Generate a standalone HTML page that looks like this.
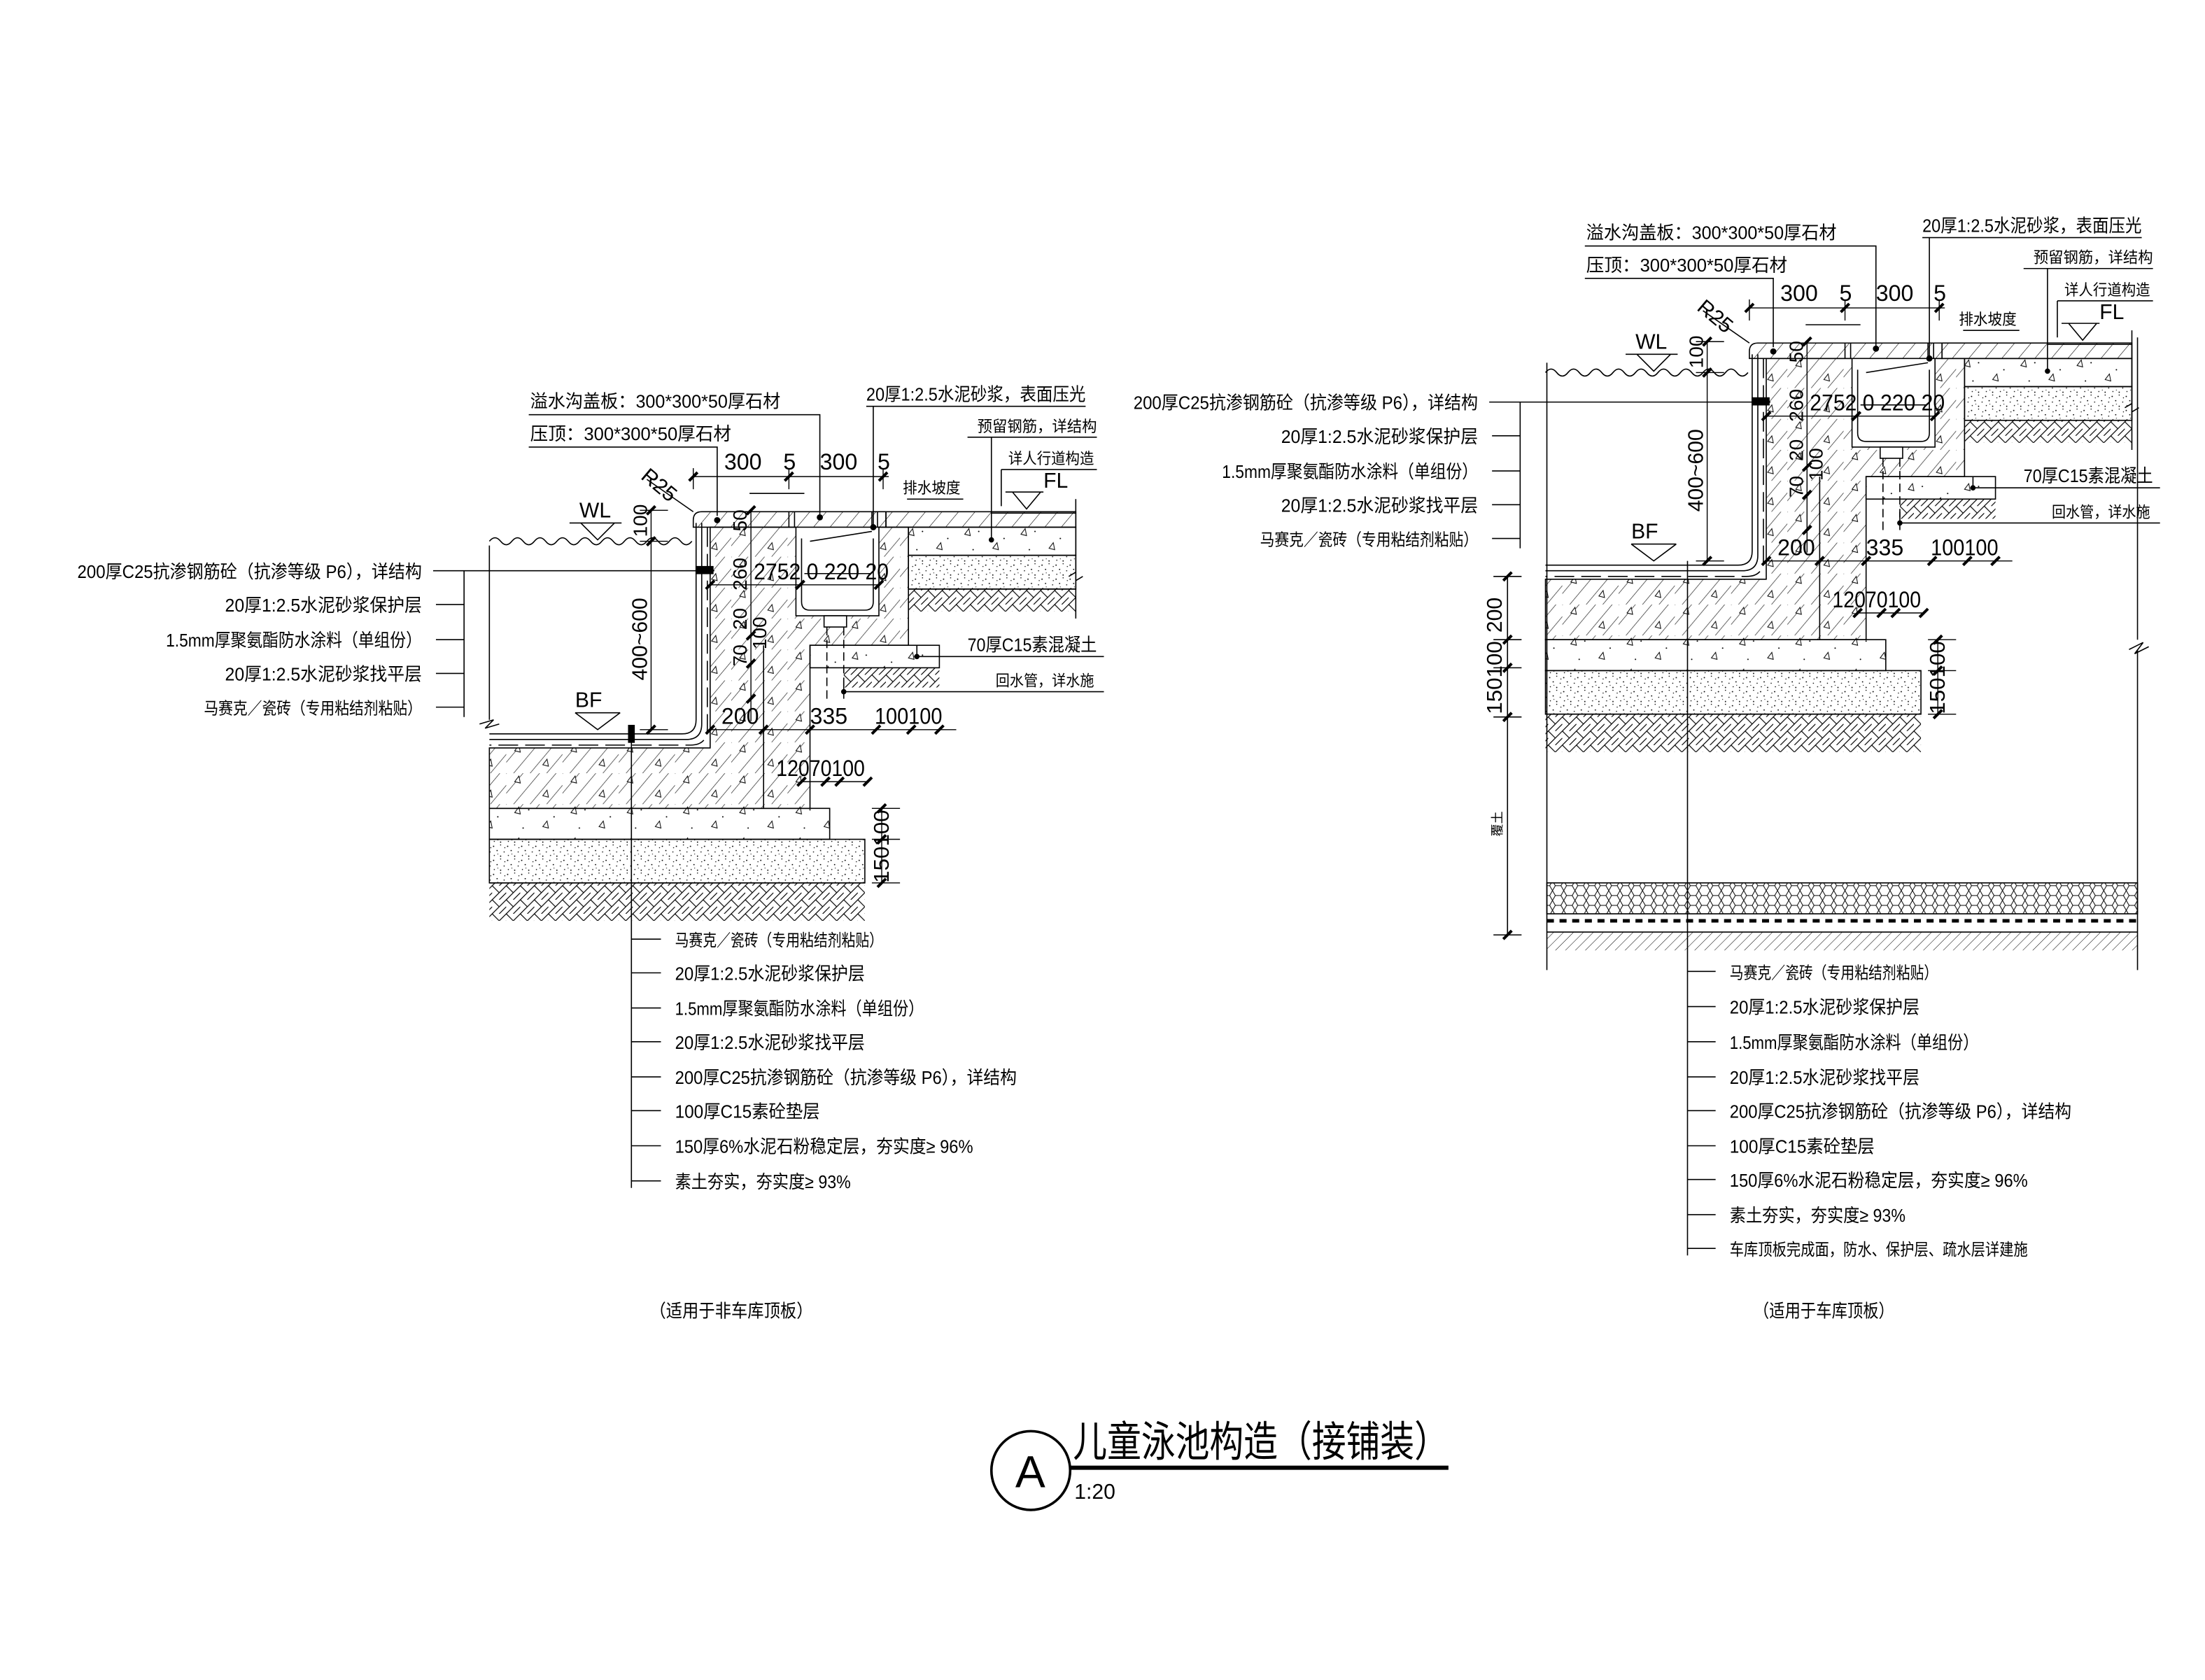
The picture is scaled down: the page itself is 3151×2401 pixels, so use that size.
<!DOCTYPE html>
<html><head><meta charset="utf-8"><style>
html,body{margin:0;padding:0;background:#fff}
svg{display:block}
text{font-family:"Liberation Sans","Noto Sans CJK SC",sans-serif;fill:#000}
</style></head><body>
<svg width="3151" height="2401" viewBox="0 0 1568 1195" preserveAspectRatio="none" xmlns="http://www.w3.org/2000/svg">
<defs>
<pattern id="h" width="9" height="9" patternUnits="userSpaceOnUse" patternTransform="rotate(40)"><line x1="0" y1="0" x2="0" y2="9" stroke="#000" stroke-width="0.6"/></pattern>
<pattern id="h2" width="5" height="5" patternUnits="userSpaceOnUse" patternTransform="rotate(45)"><line x1="0" y1="0" x2="0" y2="5" stroke="#000" stroke-width="0.5"/></pattern>
<pattern id="d" width="10" height="10" patternUnits="userSpaceOnUse"><circle cx="1" cy="2" r="0.45"/><circle cx="6" cy="1" r="0.4"/><circle cx="3.5" cy="5" r="0.45"/><circle cx="8.5" cy="6" r="0.4"/><circle cx="1.5" cy="8.5" r="0.4"/><circle cx="6" cy="9" r="0.45"/><circle cx="9" cy="3" r="0.35"/><circle cx="4" cy="7.5" r="0.3"/></pattern>
<pattern id="s" width="40" height="22" patternUnits="userSpaceOnUse"><path d="M6 6l3 -4l1 5z M26 16l3 -4l1 5z" fill="none" stroke="#000" stroke-width="0.5"/><circle cx="16" cy="4" r="0.5"/><circle cx="34" cy="9" r="0.5"/><circle cx="12" cy="17" r="0.5"/></pattern>
<pattern id="c" width="40" height="22" patternUnits="userSpaceOnUse"><rect width="40" height="22" fill="url(#h)"/><path d="M6 6l3 -4l1 5z M26 16l3 -4l1 5z" fill="#fff" stroke="#000" stroke-width="0.5"/></pattern>
<pattern id="soil" width="10" height="10" patternUnits="userSpaceOnUse"><path d="M0 10L10 0 M0 0L5 5 M5 10L10 5 M-2 2L2 -2 M8 12L12 8" fill="none" stroke="#000" stroke-width="0.6"/></pattern>
<pattern id="hex" width="8" height="7" patternUnits="userSpaceOnUse"><path d="M2 0L6 0L8 3.5L6 7L2 7L0 3.5Z" fill="none" stroke="#000" stroke-width="0.5"/></pattern>
<g id="core" stroke="#000" stroke-width="0.8" fill="none">
 <path d="M348 385 q4 -5 8 0 q4 5 8 0 q4 -5 8 0 q4 5 8 0 q4 -5 8 0 q4 5 8 0 q4 -5 8 0 q4 5 8 0 q4 -5 8 0 q4 5 8 0 q4 -5 8 0 q4 5 8 0 q4 -5 8 0 q4 5 8 0 q4 -5 8 0 q4 5 8 0 q4 -5 8 0 q4 5 8 0"/>
 <path d="M495 372 V512 Q495 522 485 522 H348"/>
 <path d="M499 372 V515 Q499 526 488 526 H348"/>
 <path d="M503 375 V518 Q503 530 491 530 H348" stroke-dasharray="14 5"/>
 <path d="M505 375 H566 V438 H625 V375 H646 V459 H576 V575 H348 V532 H505 Z" fill="url(#c)"/>
 <line x1="543" y1="459" x2="543" y2="575"/>
 <path d="M493 375 V370 Q493 364 499 364 H630 V375 Z" fill="url(#h)"/>
 <line x1="561" y1="364" x2="561" y2="375"/><line x1="565" y1="364" x2="565" y2="375"/><line x1="620" y1="364" x2="620" y2="375"/><line x1="624" y1="364" x2="624" y2="375"/>
 <path d="M570 383 V428 Q570 434 576 434 H615 Q621 434 621 428 V383" fill="#fff"/>
 <line x1="572" y1="408" x2="619" y2="408"/>
 <path d="M576 385 L620 378" />
 <rect x="586" y="438" width="16" height="8" fill="#fff"/>
 <path d="M588 446 V500 M600 446 V500" stroke-dasharray="6 3"/>
 <rect x="630" y="364" width="135" height="11" fill="url(#h)"/>
 <rect x="646" y="375" width="119" height="20" fill="url(#s)"/>
 <rect x="646" y="395" width="119" height="24" fill="url(#d)"/>
 <rect x="646" y="419" width="119" height="16" fill="url(#soil)" stroke="none"/>
 <line x1="646" y1="419" x2="765" y2="419"/>
 <rect x="576" y="459" width="92" height="16" fill="url(#s)"/>
 <rect x="600" y="475" width="68" height="14" fill="url(#soil)" stroke="none"/>
 <rect x="348" y="575" width="242" height="22" fill="url(#s)"/>
 <rect x="348" y="597" width="267" height="31" fill="url(#d)"/>
 <rect x="348" y="628" width="267" height="27" fill="url(#soil)" stroke="none"/>
 <line x1="348" y1="628" x2="615" y2="628"/>
 <path d="M405 372 H442 M413 372 L425 384 L437 372"/>
 <path d="M409 507 H441 M409 507 L425 519 L441 507"/>
 <g stroke-width="0.7">
  <line x1="463" y1="363" x2="463" y2="519"/><line x1="455" y1="363" x2="475" y2="363"/><line x1="455" y1="385" x2="475" y2="385"/><line x1="455" y1="519" x2="475" y2="519"/>
  <line x1="493" y1="339" x2="632" y2="339"/><line x1="493" y1="333" x2="493" y2="348"/><line x1="561" y1="333" x2="561" y2="348"/><line x1="628" y1="333" x2="628" y2="348"/>
  <line x1="534" y1="363" x2="534" y2="513"/>
  <line x1="505" y1="416" x2="625" y2="416"/>
  <line x1="505" y1="519" x2="680" y2="519"/>
  <line x1="570" y1="556" x2="617" y2="556"/>
  <line x1="627" y1="575" x2="627" y2="628"/><line x1="620" y1="575" x2="640" y2="575"/><line x1="620" y1="597" x2="640" y2="597"/><line x1="620" y1="628" x2="640" y2="628"/>
 </g>
 <g stroke-width="2">
  <path d="M460 366l6 -6 M460 388l6 -6 M460 522l6 -6 M490 342l6 -6 M558 342l6 -6 M625 342l6 -6 M531 366l6 -6 M531 455l6 -6 M531 475l6 -6 M531 500l6 -6 M502 419l6 -6 M566 419l6 -6 M622 419l6 -6 M502 522l6 -6 M540 522l6 -6 M573 522l6 -6 M620 522l6 -6 M645 522l6 -6 M665 522l6 -6 M567 559l6 -6 M584 559l6 -6 M594 559l6 -6 M614 559l6 -6 M624 578l6 -6 M624 600l6 -6 M624 631l6 -6"/>
 </g>
 <path d="M376 295 H583 V367 M376 318 H510 V367 M616 289 H772 M621 289 V374 M688 311 H780 M705 311 V384 M712 334 H780 M712 334 V360 M460 341 L493 364"/>
 <path d="M533 351 H572" /><path d="M645 355 H685"/>
 <path d="M715 350 H742 M720 350 L730 362 L740 350 M705 365 H765"/>
 <path d="M650 467 H785 M652 467 V459 M600 492 H785 M600 492 V484"/>
 <path d="M765 355 V410 M760 410 l5 -3 l0 6 l5 -3 M765 413 V440"/>
 <circle cx="510" cy="370" r="1.8" fill="#000"/><circle cx="583" cy="368" r="1.8" fill="#000"/><circle cx="621" cy="375" r="1.8" fill="#000"/><circle cx="705" cy="384" r="1.5" fill="#000"/><circle cx="652" cy="467" r="1.5" fill="#000"/><circle cx="600" cy="492" r="1.5" fill="#000"/>
 <path d="M308 406 H508 M330 406 V510 M310 430 H330 M310 455 H330 M310 479 H330 M310 503 H330"/>
 <rect x="495" y="403" width="12" height="5" fill="#000"/>
</g>
</defs>

<use href="#core"/>
<use href="#core" transform="translate(751,-120)"/>

<g stroke="#000" stroke-width="0.8" fill="none">
 <path d="M348 388 V512 M341 515 l10 -3 l-6 6 l10 -3"/>
 <path d="M449 519 V845"/>
 <path d="M449 668 H470 M449 692 H470 M449 717 H470 M449 741 H470 M449 766 H470 M449 790 H470 M449 815 H470 M449 840 H470"/>
 <rect x="447" y="516" width="4" height="12" fill="#000"/>
</g>
<g stroke="#000" stroke-width="0.8" fill="none">
 <path d="M1100 258 V690 M1520 240 V455 M1514 462 l10 -5 l-6 8 l10 -5 M1520 462 V690"/>
 <rect x="1100" y="628" width="420" height="22" fill="url(#hex)"/>
 <line x1="1100" y1="655" x2="1520" y2="655" stroke-width="2.5" stroke-dasharray="5 4"/>
 <line x1="1100" y1="663" x2="1520" y2="663"/>
 <rect x="1100" y="663" width="420" height="13" fill="url(#h2)" stroke="none"/>
 <path d="M1200 399 V893"/>
 <path d="M1200 691 H1220 M1200 716 H1220 M1200 741 H1220 M1200 766 H1220 M1200 790 H1220 M1200 815 H1220 M1200 839 H1220 M1200 864 H1220 M1200 888 H1220"/>
 <path d="M1072 410 V665 M1062 410 H1082 M1062 455 H1082 M1062 475 H1082 M1062 510 H1082 M1062 665 H1082"/>
 <path stroke-width="2" d="M1069 413l6 -6 M1069 458l6 -6 M1069 478l6 -6 M1069 513l6 -6 M1069 668l6 -6"/>
</g>

<g id="t" font-size="13">
 <text x="377" y="290" textLength="178" lengthAdjust="spacingAndGlyphs">溢水沟盖板：300*300*50厚石材</text>
 <text x="377" y="313" textLength="143" lengthAdjust="spacingAndGlyphs">压顶：300*300*50厚石材</text>
 <text x="616" y="285" textLength="156" lengthAdjust="spacingAndGlyphs">20厚1:2.5水泥砂浆，表面压光</text>
 <text x="695" y="307" textLength="85" lengthAdjust="spacingAndGlyphs" font-size="11">预留钢筋，详结构</text>
 <text x="717" y="330" textLength="61" lengthAdjust="spacingAndGlyphs" font-size="11">详人行道构造</text>
 <text x="642" y="351" textLength="41" lengthAdjust="spacingAndGlyphs" font-size="11">排水坡度</text>
 <text x="742" y="347" font-size="15">FL</text>
 <text x="412" y="368" font-size="15">WL</text>
 <text x="409" y="503" font-size="15">BF</text>
 <text x="0" y="0" font-size="15" transform="translate(455,340) rotate(40)">R25</text>
 <text x="515" y="334" font-size="16">300</text><text x="557" y="334" font-size="16">5</text><text x="583" y="334" font-size="16">300</text><text x="624" y="334" font-size="16">5</text>
 <text x="0" y="0" font-size="15" transform="translate(460,484) rotate(-90)">400~600</text>
 <text x="0" y="0" font-size="14" transform="translate(460,382) rotate(-90)">100</text>
 <text x="0" y="0" font-size="14" transform="translate(531,378) rotate(-90)">50</text>
 <text x="0" y="0" font-size="14" transform="translate(531,420) rotate(-90)">260</text>
 <text x="0" y="0" font-size="14" transform="translate(531,448) rotate(-90)">20</text>
 <text x="0" y="0" font-size="14" transform="translate(531,474) rotate(-90)">70</text>
 <text x="0" y="0" font-size="14" transform="translate(545,462) rotate(-90)">100</text>
 <text x="536" y="412" font-size="16" textLength="96" lengthAdjust="spacingAndGlyphs">2752 0 220 20</text>
 <text x="513" y="515" font-size="16">200</text><text x="576" y="515" font-size="16">335</text><text x="622" y="515" font-size="16" textLength="48" lengthAdjust="spacingAndGlyphs">100100</text>
 <text x="552" y="552" font-size="16" textLength="63" lengthAdjust="spacingAndGlyphs">12070100</text>
 <text x="0" y="0" font-size="15" textLength="52" lengthAdjust="spacingAndGlyphs" transform="translate(632,628) rotate(-90)">150100</text>
 <text x="688" y="463" textLength="92" lengthAdjust="spacingAndGlyphs">70厚C15素混凝土</text>
 <text x="708" y="488" textLength="70" lengthAdjust="spacingAndGlyphs" font-size="11">回水管，详水施</text>
 <text x="55" y="411" textLength="245" lengthAdjust="spacingAndGlyphs">200厚C25抗渗钢筋砼（抗渗等级 P6），详结构</text>
 <text x="160" y="435" textLength="140" lengthAdjust="spacingAndGlyphs">20厚1:2.5水泥砂浆保护层</text>
 <text x="118" y="460" textLength="182" lengthAdjust="spacingAndGlyphs">1.5mm厚聚氨酯防水涂料（单组份）</text>
 <text x="160" y="484" textLength="140" lengthAdjust="spacingAndGlyphs">20厚1:2.5水泥砂浆找平层</text>
 <text x="145" y="508" textLength="155" lengthAdjust="spacingAndGlyphs" font-size="12">马赛克／瓷砖（专用粘结剂粘贴）</text>
</g>
<use href="#t" transform="translate(751,-120)"/>

<g font-size="13">
 <text x="480" y="673" textLength="148" lengthAdjust="spacingAndGlyphs" font-size="12">马赛克／瓷砖（专用粘结剂粘贴）</text>
 <text x="480" y="697" textLength="135" lengthAdjust="spacingAndGlyphs">20厚1:2.5水泥砂浆保护层</text>
 <text x="480" y="722" textLength="177" lengthAdjust="spacingAndGlyphs">1.5mm厚聚氨酯防水涂料（单组份）</text>
 <text x="480" y="746" textLength="135" lengthAdjust="spacingAndGlyphs">20厚1:2.5水泥砂浆找平层</text>
 <text x="480" y="771" textLength="243" lengthAdjust="spacingAndGlyphs">200厚C25抗渗钢筋砼（抗渗等级 P6），详结构</text>
 <text x="480" y="795" textLength="103" lengthAdjust="spacingAndGlyphs">100厚C15素砼垫层</text>
 <text x="480" y="820" textLength="212" lengthAdjust="spacingAndGlyphs">150厚6%水泥石粉稳定层，夯实度≥ 96%</text>
 <text x="480" y="845" textLength="125" lengthAdjust="spacingAndGlyphs">素土夯实，夯实度≥ 93%</text>
</g>
<g font-size="13">
 <text x="1230" y="696" textLength="148" lengthAdjust="spacingAndGlyphs" font-size="12">马赛克／瓷砖（专用粘结剂粘贴）</text>
 <text x="1230" y="721" textLength="135" lengthAdjust="spacingAndGlyphs">20厚1:2.5水泥砂浆保护层</text>
 <text x="1230" y="746" textLength="177" lengthAdjust="spacingAndGlyphs">1.5mm厚聚氨酯防水涂料（单组份）</text>
 <text x="1230" y="771" textLength="135" lengthAdjust="spacingAndGlyphs">20厚1:2.5水泥砂浆找平层</text>
 <text x="1230" y="795" textLength="243" lengthAdjust="spacingAndGlyphs">200厚C25抗渗钢筋砼（抗渗等级 P6），详结构</text>
 <text x="1230" y="820" textLength="103" lengthAdjust="spacingAndGlyphs">100厚C15素砼垫层</text>
 <text x="1230" y="844" textLength="212" lengthAdjust="spacingAndGlyphs">150厚6%水泥石粉稳定层，夯实度≥ 96%</text>
 <text x="1230" y="869" textLength="125" lengthAdjust="spacingAndGlyphs">素土夯实，夯实度≥ 93%</text>
 <text x="1230" y="893" textLength="212" lengthAdjust="spacingAndGlyphs" font-size="12">车库顶板完成面，防水、保护层、疏水层详建施</text>
 <text x="0" y="0" font-size="15" transform="translate(1068,450) rotate(-90)">200</text>
 <text x="0" y="0" font-size="15" textLength="52" lengthAdjust="spacingAndGlyphs" transform="translate(1068,508) rotate(-90)">150100</text>
 <text x="0" y="0" font-size="9" transform="translate(1068,595) rotate(-90)">覆土</text>
</g>

<text x="462" y="937" font-size="13" textLength="116" lengthAdjust="spacingAndGlyphs">（适用于非车库顶板）</text>
<text x="1247" y="937" font-size="13" textLength="100" lengthAdjust="spacingAndGlyphs">（适用于车库顶板）</text>

<circle cx="733" cy="1046" r="28" fill="none" stroke="#000" stroke-width="1.8"/>
<text x="722" y="1058" font-size="32">A</text>
<text x="763" y="1036" font-size="30" textLength="267" lengthAdjust="spacingAndGlyphs">儿童泳池构造（接铺装）</text>
<line x1="761" y1="1044" x2="1030" y2="1044" stroke="#000" stroke-width="3"/>
<text x="764" y="1066" font-size="15">1:20</text>
</svg>
</body></html>
